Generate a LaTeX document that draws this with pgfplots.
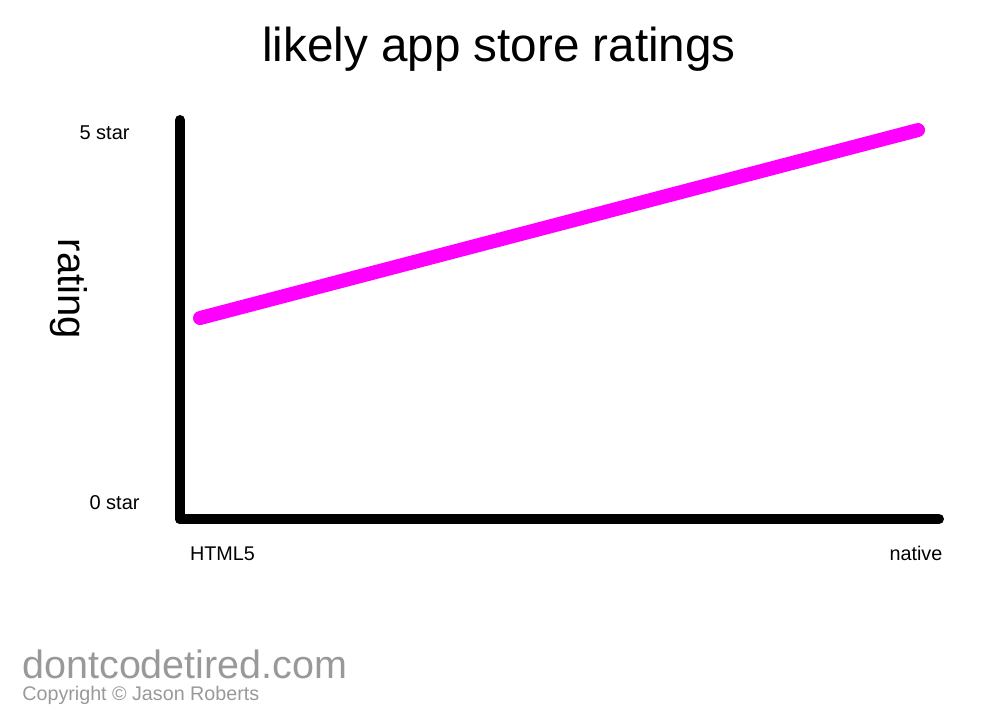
\documentclass[border=0pt]{standalone}
\usepackage{fontspec}
\setmainfont{Liberation Sans}
\usepackage{pgfplots}
\pgfplotsset{compat=1.18}
\definecolor{mag}{RGB}{255,0,255}
\definecolor{wm}{RGB}{153,153,153}
\begin{document}
\begin{tikzpicture}
\path[use as bounding box] (0,0) rectangle (500pt,360pt);
\begin{axis}[
  at={(90pt,100.5pt)}, anchor=south west,
  scale only axis, width=379.5pt, height=199.5pt,
  xmin=-0.0613, xmax=1.0332,
  ymin=-0.216, ymax=5.176,
  axis lines=left,
  axis line style={-, line width=5pt, line cap=round, black},
  major tick length=0pt,
  tick style={draw=none},
  /pgf/number format/assume math mode=true,
  xtick={0,1}, xticklabels={HTML5,native},
  ytick={0,5}, yticklabels={{0 star},{5 star\kern5pt}},
  xticklabel style={anchor=base, inner sep=0pt, yshift=-20.5pt, font=\fontsize{9.9}{12}\selectfont},
  yticklabel style={anchor=east, inner sep=0pt, xshift=-20pt, font=\fontsize{10}{12}\selectfont},
  clip=false,
]
\addplot[mag, line width=7pt, line cap=round] coordinates {(-0.0324,2.50) (1.0029,5.04)};
\end{axis}
\node[anchor=base, inner sep=0pt, font=\fontsize{23.8}{28}\selectfont] at (249.5pt,329.5pt) {likely app store ratings};
\node[rotate=-90, anchor=center, inner sep=0pt, font=\fontsize{20}{24}\selectfont] at (34.5pt,215.5pt) {rating};
\node[anchor=base west, inner sep=0pt, text=wm, font=\fontsize{19.75}{24}\selectfont] at (11pt,21pt) {dontcodetired.com};
\node[anchor=base west, inner sep=0pt, text=wm, font=\fontsize{9.85}{12}\selectfont] at (11pt,10pt) {Copyright © Jason Roberts};
\end{tikzpicture}
\end{document}
